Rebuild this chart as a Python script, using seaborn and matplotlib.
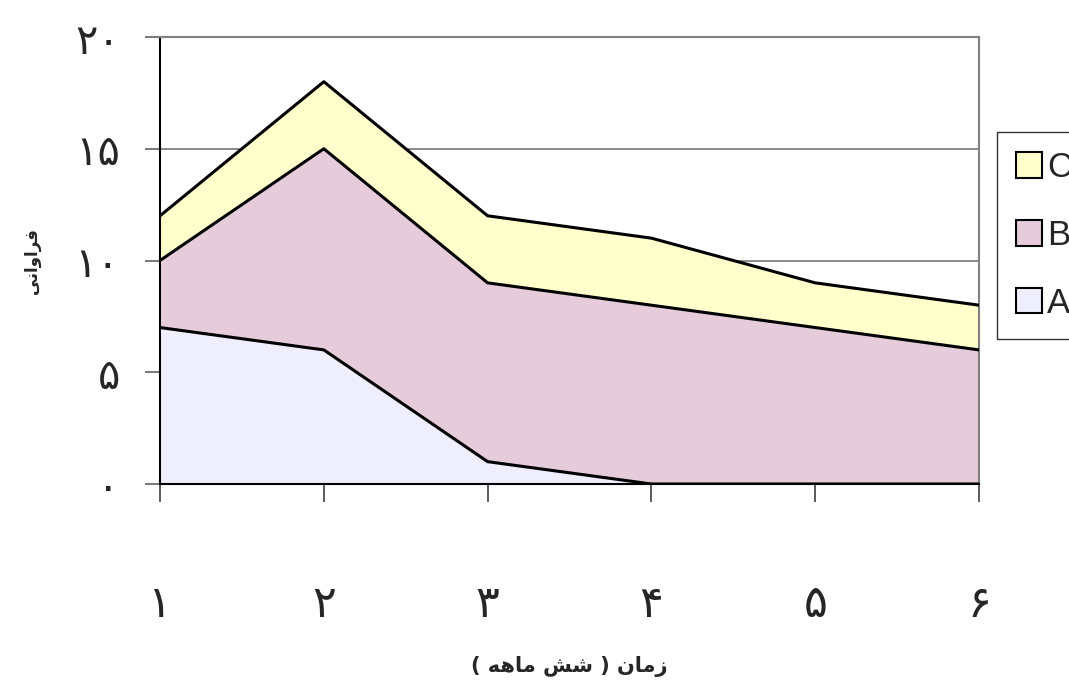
import numpy as np
import matplotlib
matplotlib.use("Agg")
import matplotlib.pyplot as plt
import seaborn as sns
import pandas as pd
from matplotlib.patches import Patch

# data
periods = [1, 2, 3, 4, 5, 6]
series_names = ["A", "B", "C"]
values_a = [7, 6, 1, 0, 0, 0]
values_b = [3, 9, 8, 8, 7, 6]
values_c = [2, 3, 3, 3, 2, 2]
y_ticks = [0, 5, 10, 15, 20]
x_title = "زمان ( شش ماهه )"
y_title = "فراوانی"

colors = {"A": "#eeeeff", "B": "#e6cbdb", "C": "#ffffcc"}

PERSIAN_DIGITS = "۰۱۲۳۴۵۶۷۸۹"

# presentation forms: isolated, final, initial, medial
FORMS = {
    "ا": ("\uFE8D", "\uFE8E", None, None),
    "ر": ("\uFEAD", "\uFEAE", None, None),
    "ز": ("\uFEAF", "\uFEB0", None, None),
    "و": ("\uFEED", "\uFEEE", None, None),
    "ف": ("\uFED1", "\uFED2", "\uFED3", "\uFED4"),
    "ن": ("\uFEE5", "\uFEE6", "\uFEE7", "\uFEE8"),
    "م": ("\uFEE1", "\uFEE2", "\uFEE3", "\uFEE4"),
    "ش": ("\uFEB5", "\uFEB6", "\uFEB7", "\uFEB8"),
    "ه": ("\uFEE9", "\uFEEA", "\uFEEB", "\uFEEC"),
    "ی": ("\uFBFC", "\uFBFD", "\uFBFE", "\uFBFF"),
}


def fa_digits(n):
    return "".join(PERSIAN_DIGITS[int(d)] for d in str(n))


def shape_word(word):
    """matplotlib draws glyphs left to right with no joining, so join the
    letters here and return them in visual order."""
    out = []
    for i, ch in enumerate(word):
        if ch not in FORMS:
            out.append(ch)
            continue
        prev = word[i - 1] if i > 0 else None
        nxt = word[i + 1] if i < len(word) - 1 else None
        join_prev = prev in FORMS and FORMS[prev][2] is not None
        join_next = FORMS[ch][2] is not None and nxt in FORMS
        iso, fin, ini, med = FORMS[ch]
        if join_prev and join_next:
            out.append(med)
        elif join_prev:
            out.append(fin)
        elif join_next:
            out.append(ini)
        else:
            out.append(iso)
    return "".join(reversed(out))


def rtl_text(text):
    mirror = {"(": ")", ")": "("}
    words = [mirror.get(w, shape_word(w)) for w in text.split(" ")]
    return " ".join(reversed(words))


sns.set_style("white")
plt.rcParams["font.family"] = ["DejaVu Sans"]

df = pd.DataFrame({"period": periods, "A": values_a, "B": values_b, "C": values_c})
df["AB"] = df["A"] + df["B"]
df["ABC"] = df["AB"] + df["C"]

fig = plt.figure(figsize=(10.69, 6.84), dpi=100)
ax = fig.add_axes([0.1497, 0.2924, 0.7661, 0.6535])

ax.stackplot(df["period"], df["A"], df["B"], df["C"],
             colors=[colors[s] for s in series_names], zorder=2)

for col in ["A", "AB", "ABC"]:
    sns.lineplot(data=df, x="period", y=col, ax=ax, color="black", lw=2.2, zorder=3)

ax.set_xlim(1, 6)
ax.set_ylim(0, 20)
ax.set_yticks(y_ticks)
ax.set_yticklabels([fa_digits(v) for v in y_ticks], fontsize=30)
ax.set_xticks(periods)
ax.set_xticklabels([fa_digits(p) for p in periods], fontsize=32)

for y in y_ticks[1:]:
    ax.axhline(y, color="#808080", lw=1.3, zorder=1)

for side in ["top", "right"]:
    ax.spines[side].set_color("#808080")
    ax.spines[side].set_linewidth(1.5)
for side in ["left", "bottom"]:
    ax.spines[side].set_color("black")
    ax.spines[side].set_linewidth(1.5)

ax.tick_params(axis="y", direction="out", length=11, width=1.2, color="#606060", pad=18, left=True)
ax.tick_params(axis="x", direction="out", length=13, width=1.2, color="#404040", pad=58, bottom=True)

ax.set_xlabel(rtl_text(x_title), fontsize=15, fontweight="bold", labelpad=22)
ax.set_ylabel(rtl_text(y_title), fontsize=12, fontweight="bold", labelpad=24)

handles = [Patch(facecolor=colors[s], edgecolor="black", lw=1.5, label=s)
           for s in reversed(series_names)]
leg = ax.legend(handles=handles, loc="upper left", bbox_to_anchor=(1.022, 0.787),
                borderaxespad=0, frameon=True, handlelength=0.75, handleheight=0.75,
                handletextpad=0.15, labelspacing=1.0, borderpad=0.55,
                fancybox=False, edgecolor="black",
                prop={"family": "Liberation Sans", "size": 25})
leg.get_frame().set_linewidth(1.0)

fig.savefig("out.png", dpi=100)
